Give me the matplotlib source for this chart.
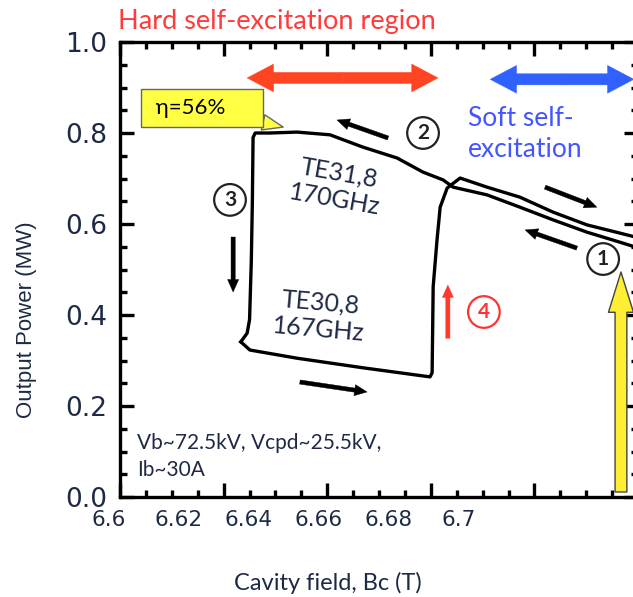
# hysteresis of output power vs cavity field
import numpy as np
import matplotlib.pyplot as plt
from matplotlib.ticker import FixedLocator, MultipleLocator
#
plt.rcParams['font.family'] = ['Lato', 'DejaVu Sans']
#
# decreasing field sweep (from right edge to the drop at 6.64 T)
down_x = [6.7507, 6.7461, 6.7367, 6.7270, 6.7175, 6.7081, 6.6984, 6.6955, 6.6898,
          6.6824, 6.6726, 6.6632, 6.6538, 6.6460, 6.6418, 6.6412, 6.6410, 6.6407,
          6.6402, 6.6395, 6.6377]
down_y = [0.549, 0.560, 0.582, 0.609, 0.637, 0.664, 0.681, 0.697, 0.714,
          0.745, 0.769, 0.796, 0.802, 0.800, 0.800, 0.790, 0.650, 0.520,
          0.390, 0.360, 0.341]
# increasing field sweep (TE30,8 then jump back to TE31,8)
up_x = [6.6377, 6.6403, 6.6538, 6.6726, 6.6918, 6.6924, 6.6927, 6.6938, 6.6947,
        6.6967, 6.7004, 6.7081, 6.7175, 6.7270, 6.7367, 6.7461, 6.7507]
up_y = [0.341, 0.323, 0.305, 0.284, 0.264, 0.273, 0.462, 0.565, 0.637,
        0.679, 0.701, 0.681, 0.659, 0.626, 0.598, 0.580, 0.571]
#
xtick_vals = [6.6, 6.62, 6.64, 6.66, 6.68, 6.7]
xtick_text = ['6.6', '6.62', '6.64', '6.66', '6.68', '6.7']
ytick_vals = [0.0, 0.2, 0.4, 0.6, 0.8, 1.0]
ytick_text = ['0.0', '0.2', '0.4', '0.6', '0.8', '1.0']
#
xmin, xmax = 6.60315, 6.75127
navy = '#1e2a44'
#
fig = plt.figure(figsize=(6.33, 5.97), dpi=100)
ax = fig.add_axes([120/633, 100/597, 518/633, 455/597])
ax.set_xlim(xmin, xmax)
ax.set_ylim(0, 1.0)
#
ax.plot(down_x, down_y, color='black', linewidth=2.4, zorder=3)
ax.plot(up_x, up_y, color='black', linewidth=2.4, zorder=3)
#
# frame and ticks
for s in ax.spines.values() :
    s.set_linewidth(2.4)
ax.xaxis.set_major_locator(FixedLocator(np.linspace(xmin, xmax, 6)))
ax.xaxis.set_minor_locator(FixedLocator(np.linspace(xmin, xmax, 21)))
ax.set_yticks(ytick_vals, ytick_text)
ax.yaxis.set_minor_locator(MultipleLocator(0.05))
ax.tick_params(which='both', direction='in', top=True, right=True, width=2.4, color='black')
ax.tick_params(which='major', length=10)
ax.tick_params(which='minor', length=5)
ax.tick_params(axis='x', labelbottom=False)
ax.tick_params(axis='y', labelsize=19, pad=9, labelcolor=navy)
for t in ax.get_yticklabels() :
    t.set_family('DejaVu Sans')
#
# the printed x labels do not sit on the tick marks
for v, t in zip(xtick_vals, xtick_text) :
    ax.text(v, -0.028, t, transform=ax.get_xaxis_transform(), ha='center', va='top',
            fontsize=15.5, family='DejaVu Sans', color=navy, clip_on=False)
#
ax.set_ylabel('Output Power (MW)', fontsize=16, family='Liberation Sans', color=navy)
ax.yaxis.set_label_coords(-0.160, 0.389)
ax.set_xlabel('Cavity field, Bc (T)', fontsize=17, color=navy)
ax.xaxis.set_label_coords(0.4015, -0.165)
#
fig.text(118/633, 1-21/597, 'Hard self-excitation region', color='#ff3b3b',
         fontsize=19.5, va='center', ha='left')
#
def arrow(x0, y0, x1, y1, color, style, ec=None, lw=0.3) :
    ax.annotate('', xy=(x1, y1), xytext=(x0, y0), annotation_clip=False,
                arrowprops=dict(arrowstyle=style, fc=color, ec=ec or color, lw=lw,
                                shrinkA=0, shrinkB=0, mutation_scale=1), zorder=5)
    return
#
big = 'simple,head_length=19,head_width=20,tail_width=8'
mid = (6.6395 + 6.6941) / 2
arrow(mid, 0.921, 6.6395, 0.921, '#ff4422', big)
arrow(mid, 0.921, 6.6941, 0.921, '#ff4422', big)
mid = (6.7090 + 6.7501) / 2
arrow(mid, 0.918, 6.7090, 0.918, '#3060ff', big)
arrow(mid, 0.918, 6.7501, 0.918, '#3060ff', big)
#
small = 'simple,head_length=9,head_width=8,tail_width=3'
arrow(6.6798, 0.789, 6.6652, 0.8286, 'black', small)
arrow(6.6355, 0.5714, 6.6355, 0.4505, 'black', small)
arrow(6.6546, 0.2527, 6.6738, 0.2308, 'black', small)
arrow(6.7247, 0.681, 6.7395, 0.637, 'black', small)
arrow(6.7338, 0.547, 6.7190, 0.587, 'black', small)
arrow(6.6969, 0.349, 6.6969, 0.466, '#ff3a2a', small)
#
arrow(6.7464, 0.011, 6.7464, 0.4945, '#ffee33',
      'simple,head_length=29,head_width=18,tail_width=8.5', ec='#444444', lw=1.0)
#
# circled step numbers
for xx, yy, num, col in [(6.7413, 0.523, '1', '#222222'), (6.6898, 0.800, '2', '#222222'),
                         (6.6346, 0.653, '3', '#222222'), (6.7072, 0.4066, '4', '#ff3333')] :
    ax.text(xx, yy, num, ha='center', va='center', fontsize=15, fontweight='bold', color=col,
            zorder=6, bbox=dict(boxstyle='circle,pad=0.28', fc='white', ec=col, lw=1.6))
#
ax.text(6.6652, 0.6835, 'TE31,8\n170GHz', rotation=-10, ha='center', va='center',
        fontsize=18, color=navy, rotation_mode='anchor')
ax.text(6.6603, 0.398, 'TE30,8\n167GHz', rotation=-5, ha='center', va='center',
        fontsize=18, color=navy, rotation_mode='anchor')
ax.text(6.7027, 0.797, 'Soft self-\nexcitation', ha='left', va='center',
        fontsize=19, color='#4455ff', linespacing=1.3)
ax.text(6.608, 0.1407, 'Vb~72.5kV, Vcpd~25.5kV,\nIb~30A', ha='left', va='top',
        fontsize=15, color=navy, linespacing=1.45)
#
ax.annotate(' η=56%     ', xy=(6.6498, 0.813), xytext=(6.6265, 0.855), ha='center', va='center',
            fontsize=16, color='black', zorder=6,
            bbox=dict(boxstyle='square,pad=0.4', fc='#ffff44', ec='#666666', lw=1.0),
            arrowprops=dict(arrowstyle='wedge,tail_width=0.7', fc='#ffff44', ec='#666666',
                            lw=1.0, shrinkA=0, shrinkB=0))
#
plt.savefig('out.png', format='png', dpi=100)
